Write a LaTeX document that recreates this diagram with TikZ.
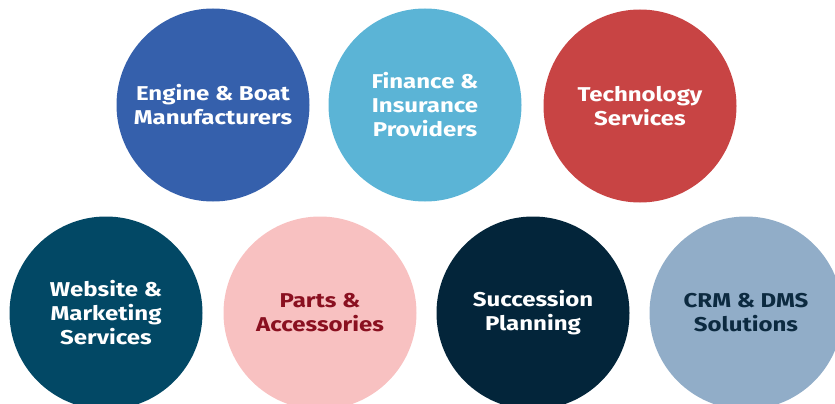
\documentclass[tikz,border=0pt]{standalone}
\usepackage{fontspec}
\setmainfont{Fira Sans}[FakeStretch=1.2]
\usepackage{tikz}

\definecolor{engineblue}{HTML}{3560AC}
\definecolor{financeblue}{HTML}{5BB4D6}
\definecolor{techred}{HTML}{C84444}
\definecolor{webteal}{HTML}{024865}
\definecolor{partspink}{HTML}{F8C1C1}
\definecolor{partstext}{HTML}{8A1020}
\definecolor{succnavy}{HTML}{03253A}
\definecolor{crmgrey}{HTML}{91ADC8}
\definecolor{crmtext}{HTML}{0C2A40}

\begin{document}
\begin{tikzpicture}[x=1pt,y=-1pt,main node/.style={circle,minimum size=193pt,inner sep=0pt,align=center,text=white,font=\bfseries\fontsize{20}{24}\selectfont}]
			
			\useasboundingbox (0,0) rectangle (835,404);
			\clip (0,0) rectangle (835,404);
			
			\node[main node,fill=engineblue] (1) at (213,105) {Engine \& Boat\\Manufacturers};
			\node[main node,fill=financeblue] (2) at (425,105) {Finance \&\\Insurance\\Providers};
			\node[main node,fill=techred] (3) at (640,106) {Technology\\Services};
			
			\node[main node,fill=webteal] (4) at (106,313) {Website \&\\Marketing\\Services};
			\node[main node,fill=partspink,text=partstext] (5) at (320,313) {Parts \&\\Accessories};
			\node[main node,fill=succnavy] (6) at (533,313) {Succession\\Planning};
			\node[main node,fill=crmgrey,text=crmtext] (7) at (746,313) {CRM \& DMS\\Solutions};
			\end{tikzpicture}
\end{document}
